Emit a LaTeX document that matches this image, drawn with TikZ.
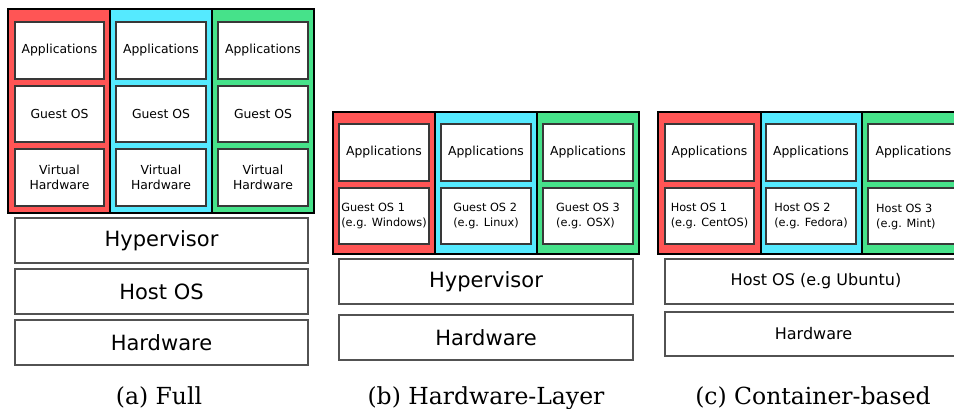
\documentclass[tikz,border=0pt]{standalone}
\usepackage{fontspec}
\newfontfamily\dv{DejaVu Sans}
\newfontfamily\dvs{DejaVu Serif}
\definecolor{cred}{HTML}{FF5555}
\definecolor{ccyan}{HTML}{55EAFF}
\definecolor{cgreen}{HTML}{46E28A}
\newcommand\mybox[7]{%
 \pgfmathsetmacro\bw{#5-#3}\pgfmathsetmacro\bh{#6-#4}%
 \node[#2, minimum width=\bw pt, minimum height=\bh pt] (#1) at ({(#3+#5)/2},{(#4+#6)/2}) {#7};}
\tikzset{
 colbox/.style={draw=black, line width=1.5pt, inner sep=0pt, outer sep=0pt},
 inbox/.style={draw=black!78, line width=1.8pt, fill=white, inner sep=0pt, align=center,
   font=\dv\fontsize{12.4}{15}\selectfont},
 osbox/.style={inbox, font=\dv\fontsize{11.3}{15}\selectfont, align=left},
 layer/.style={draw=black!68, line width=1.5pt, fill=white, inner sep=0pt,
   font=\dv\fontsize{21}{25}\selectfont},
 layersm/.style={layer, font=\dv\fontsize{16}{19}\selectfont},
 capt/.style={anchor=base, font=\dvs\fontsize{23.5}{28}\selectfont, inner sep=0pt},
}
\begin{document}
\begin{tikzpicture}[x=1pt,y=-1pt]
\useasboundingbox (0,0) rectangle (954,409);
\clip (0,0) rectangle (954,409);
% ---------- (a) Full
\mybox{ar}{colbox,fill=cred}{8}{9}{110}{213}{}
\mybox{ac}{colbox,fill=ccyan}{110}{9}{212}{213}{}
\mybox{ag}{colbox,fill=cgreen}{212}{9}{314}{213}{}
\mybox{a11}{inbox}{15}{22}{104}{79}{Applications}
\mybox{a12}{inbox}{15}{86}{104}{142}{Guest OS}
\mybox{a13}{inbox}{15}{149}{104}{206}{Virtual\\Hardware}
\mybox{a21}{inbox}{116}{22}{206}{79}{Applications}
\mybox{a22}{inbox}{116}{86}{206}{142}{Guest OS}
\mybox{a23}{inbox}{116}{149}{206}{206}{Virtual\\Hardware}
\mybox{a31}{inbox}{218}{22}{308}{79}{Applications}
\mybox{a32}{inbox}{218}{86}{308}{142}{Guest OS}
\mybox{a33}{inbox}{218}{149}{308}{206}{Virtual\\Hardware}
\mybox{ahyp}{layer}{15}{218}{308}{263}{Hypervisor}
\mybox{ahost}{layer}{15}{269}{308}{314}{Host OS}
\mybox{ahw}{layer}{15}{320}{308}{365}{Hardware}
\node[capt] (capa) at (159,404) {(a) Full};
% ---------- (b) Hardware-Layer
\mybox{br}{colbox,fill=cred}{333}{112}{435}{254}{}
\mybox{bc}{colbox,fill=ccyan}{435}{112}{537}{254}{}
\mybox{bg}{colbox,fill=cgreen}{537}{112}{639}{254}{}
\mybox{b11}{inbox}{339}{124}{429}{181}{Applications}
\mybox{b12}{osbox}{339}{188}{429}{244}{Guest OS 1\\(e.g. Windows)}
\mybox{b21}{inbox}{441}{124}{531}{181}{Applications}
\mybox{b22}{osbox}{441}{188}{531}{244}{Guest OS 2\\(e.g. Linux)}
\mybox{b31}{inbox}{543}{124}{633}{181}{Applications}
\mybox{b32}{osbox}{543}{188}{633}{244}{Guest OS 3\\(e.g. OSX)}
\mybox{bhyp}{layer}{339}{259}{633}{304}{Hypervisor}
\mybox{bhw}{layer}{339}{315}{633}{360}{Hardware}
\node[capt] (capb) at (486,404) {(b) Hardware-Layer};
% ---------- (c) Container-based
\mybox{cr}{colbox,fill=cred}{658}{112}{761}{254}{}
\mybox{cc}{colbox,fill=ccyan}{761}{112}{862}{254}{}
\mybox{cg}{colbox,fill=cgreen}{862}{112}{965}{254}{}
\mybox{c11}{inbox}{665}{124}{754}{181}{Applications}
\mybox{c12}{osbox}{665}{188}{754}{244}{Host OS 1\\(e.g. CentOS)}
\mybox{c21}{inbox}{766}{124}{856}{181}{Applications}
\mybox{c22}{osbox}{766}{188}{856}{244}{Host OS 2\\(e.g. Fedora)}
\mybox{c31}{inbox}{868}{124}{959}{181}{Applications}
\mybox{c32}{osbox}{868}{188}{959}{244}{}
\node[anchor=west, inner sep=0pt, align=left, font=\dv\fontsize{11.3}{15}\selectfont] (c32t) at (876,217) {Host OS 3\\(e.g. Mint)};
\mybox{chost}{layersm}{665}{259}{967}{304}{Host OS (e.g Ubuntu)}
\mybox{chw}{layersm}{665}{312}{962}{356}{Hardware}
\node[capt] (capc) at (813,404) {(c) Container-based};
\end{tikzpicture}
\end{document}
